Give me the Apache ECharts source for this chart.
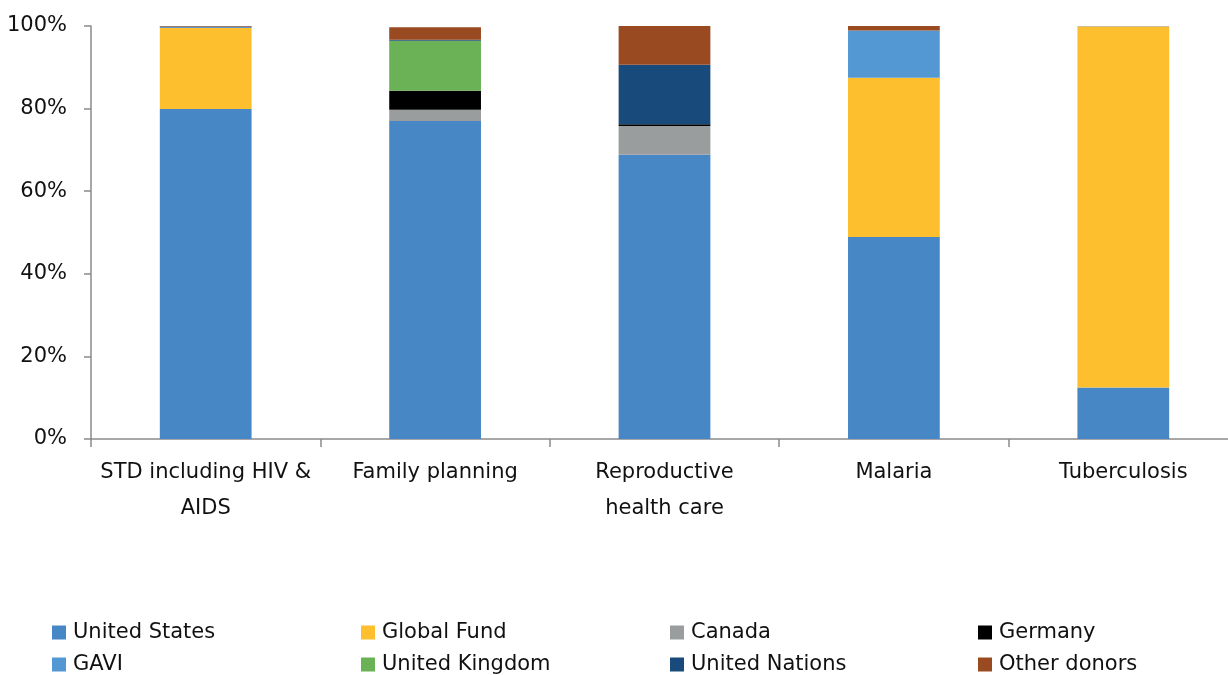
<!DOCTYPE html>
<html>
<head>
<meta charset="utf-8">
<script src="https://cdn.jsdelivr.net/npm/echarts@6/dist/echarts.min.js"></script>
<style>
  html, body { margin: 0; padding: 0; background: #ffffff; overflow: hidden; }
  /* the plot's last category runs slightly past the right edge of the view */
  #chart { width: 1238px; height: 675px; }
</style>
</head>
<body>
<div id="chart"></div>
<script>
// Share of funding by donor, per health area (percent of total)
const categories = [
  'STD including HIV &\nAIDS',
  'Family planning',
  'Reproductive\nhealth care',
  'Malaria',
  'Tuberculosis'
];

const unitedStates   = [79.9, 77.0, 68.8, 48.9, 12.5];
const globalFund     = [19.6, 0,    0,    38.6, 87.4];
const canada         = [0,    2.7,  7.0,  0,    0.1];
const germany        = [0,    4.6,  0.4,  0,    0];
const gavi           = [0.2,  0,    0,    11.4, 0];
const unitedKingdom  = [0,    12.1, 0,    0,    0];
const unitedNations  = [0.2,  0.3,  14.4, 0,    0];
const otherDonors    = [0.1,  3.0,  9.4,  1.1,  0];

const yTicks = [0, 20, 40, 60, 80, 100];

const seriesDefs = [
  { name: 'United States',  data: unitedStates,  color: '#4787c5' },
  { name: 'Global Fund',    data: globalFund,    color: '#fdbf2d' },
  { name: 'Canada',         data: canada,        color: '#9a9d9e' },
  { name: 'Germany',        data: germany,       color: '#000000' },
  { name: 'GAVI',           data: gavi,          color: '#5398d3' },
  { name: 'United Kingdom', data: unitedKingdom, color: '#6bb155' },
  { name: 'United Nations', data: unitedNations, color: '#184b7b' },
  { name: 'Other donors',   data: otherDonors,   color: '#9a4a21' }
];

const font = '"DejaVu Sans", "Noto Sans", sans-serif';
const textColor = '#111111';
const fontSize = 21;

// Legend grid: four columns, two rows, one legend component per entry
const legendCols = [52, 361, 670, 978];
const legendRows = [622, 654];
const legends = seriesDefs.map((s, i) => ({
  left: legendCols[i % 4],
  top: legendRows[Math.floor(i / 4)],
  padding: 0,
  itemWidth: 14,
  itemHeight: 14,
  icon: 'rect',
  data: [s.name],
  textStyle: { fontFamily: font, fontSize: fontSize, color: textColor, padding: [0, 0, 0, 2] }
}));

const chart = echarts.init(document.getElementById('chart'), null, { renderer: 'canvas' });
chart.setOption({
  animation: false,
  backgroundColor: '#ffffff',
  grid: { left: 91, top: 26, right: 0, height: 413, containLabel: false },
  legend: legends,
  xAxis: {
    type: 'category',
    data: categories,
    boundaryGap: true,
    axisLine: { lineStyle: { color: '#8a8a8a', width: 1.5 } },
    axisTick: { show: true, length: 8, lineStyle: { color: '#8a8a8a', width: 1.5 } },
    axisLabel: {
      fontFamily: font, fontSize: fontSize, color: textColor,
      lineHeight: 36, margin: 16, interval: 0
    }
  },
  yAxis: {
    type: 'value',
    min: yTicks[0],
    max: yTicks[yTicks.length - 1],
    interval: 20,
    axisLine: { show: true, lineStyle: { color: '#8a8a8a', width: 1.5 } },
    axisTick: { show: true, length: 7, lineStyle: { color: '#8a8a8a', width: 1.5 } },
    splitLine: { show: false },
    axisLabel: {
      fontFamily: font, fontSize: fontSize, color: textColor, margin: 24,
      formatter: '{value}%'
    }
  },
  series: seriesDefs.map(s => ({
    name: s.name,
    type: 'bar',
    stack: 'total',
    barWidth: '40%',
    data: s.data,
    itemStyle: { color: s.color },
    emphasis: { disabled: true }
  }))
});
</script>
</body>
</html>
